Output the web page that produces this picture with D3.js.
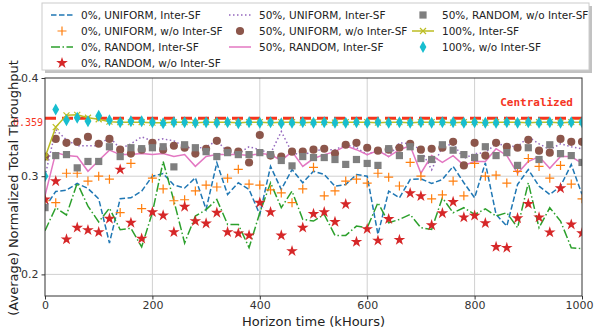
<!DOCTYPE html>
<html><head><meta charset="utf-8">
<script src="https://cdn.jsdelivr.net/npm/d3@7"></script>
<style>body{margin:0;background:#fff}svg{display:block}</style>
</head><body>
<script>
const horizon = [0,20,40,60,80,100,120,140,160,180,200,220,240,260,280,300,320,340,360,380,400,420,440,460,480,500,520,540,560,580,600,620,640,660,680,700,720,740,760,780,800,820,840,860,880,900,920,940,960,980,1000];
const uni0Inter = [0.268,0.2845,0.2858,0.2926,0.2875,0.277,0.232,0.277,0.278,0.2848,0.300,0.3027,0.291,0.288,0.2984,0.2662,0.3136,0.2814,0.2933,0.2865,0.261,0.310,0.2865,0.3068,0.2933,0.3051,0.3017,0.2898,0.2916,0.3017,0.300,0.2407,0.2848,0.278,0.2966,0.2973,0.2926,0.2966,0.310,0.2933,0.278,0.3136,0.261,0.2492,0.2916,0.3068,0.2898,0.2814,0.2898,0.3119,0.2814];
const uni0NoInter = [0.275,0.273,0.303,0.303,0.295,0.300,0.297,0.263,0.313,0.267,0.298,0.287,0.275,0.276,0.285,0.291,0.289,0.298,0.307,0.292,0.291,0.286,0.283,0.273,0.287,0.309,0.280,0.285,0.295,0.297,0.293,0.303,0.299,0.290,0.314,0.300,0.277,0.281,0.295,0.280,0.313,0.300,0.301,0.293,0.305,0.318,0.310,0.298,0.311,0.292,0.277];
const rnd0Inter = [0.2445,0.268,0.2605,0.293,0.2695,0.2534,0.2675,0.2455,0.247,0.228,0.263,0.315,0.275,0.232,0.2594,0.266,0.2763,0.2509,0.2509,0.2272,0.2628,0.2933,0.2679,0.2848,0.256,0.2543,0.261,0.2397,0.2397,0.2492,0.2475,0.273,0.2526,0.256,0.261,0.2475,0.2458,0.278,0.2628,0.2679,0.261,0.2667,0.2594,0.2628,0.2475,0.2933,0.2475,0.2679,0.2543,0.2272,0.2262];
const rnd0NoInter = [0.2763,0.2949,0.2357,0.2476,0.2451,0.2431,0.2567,0.3068,0.2526,0.2364,0.2634,0.26,0.2431,0.2689,0.2543,0.2519,0.2628,0.2431,0.2418,0.2397,0.273,0.2634,0.2397,0.2238,0.2476,0.2616,0.2635,0.2535,0.2715,0.2332,0.2462,0.2345,0.2564,0.2352,0.2827,0.2797,0.2501,0.2623,0.2738,0.2581,0.2598,0.2522,0.2281,0.2271,0.2572,0.2718,0.2581,0.2428,0.2878,0.2508,0.242];
const uni50Inter = [0.300,0.3475,0.337,0.331,0.331,0.331,0.340,0.328,0.333,0.340,0.336,0.338,0.336,0.330,0.328,0.330,0.336,0.325,0.323,0.330,0.327,0.323,0.3455,0.324,0.321,0.326,0.327,0.327,0.332,0.329,0.322,0.327,0.320,0.334,0.333,0.327,0.3065,0.330,0.333,0.318,0.323,0.324,0.333,0.331,0.330,0.340,0.333,0.327,0.333,0.330,0.328];
const uni50NoInter = [0.320,0.338,0.334,0.335,0.340,0.333,0.338,0.327,0.323,0.327,0.334,0.327,0.331,0.329,0.323,0.328,0.336,0.326,0.325,0.314,0.342,0.321,0.320,0.325,0.325,0.327,0.328,0.323,0.332,0.334,0.329,0.326,0.327,0.329,0.333,0.327,0.328,0.329,0.335,0.311,0.334,0.321,0.334,0.330,0.329,0.337,0.326,0.324,0.338,0.335,0.335];
const rnd50Inter = [0.280,0.324,0.321,0.320,0.305,0.316,0.3265,0.322,0.322,0.323,0.322,0.323,0.320,0.322,0.310,0.320,0.322,0.322,0.322,0.321,0.323,0.322,0.316,0.325,0.310,0.318,0.322,0.325,0.331,0.327,0.322,0.326,0.320,0.327,0.331,0.303,0.321,0.314,0.321,0.311,0.315,0.315,0.328,0.321,0.303,0.315,0.320,0.308,0.320,0.320,0.313];
const rnd50NoInter = [0.268,0.321,0.322,0.3085,0.315,0.315,0.330,0.320,0.329,0.328,0.329,0.330,0.3095,0.332,0.329,0.325,0.320,0.324,0.322,0.322,0.324,0.322,0.316,0.3105,0.320,0.319,0.319,0.317,0.312,0.317,0.313,0.311,0.328,0.321,0.330,0.318,0.317,0.332,0.3265,0.322,0.319,0.330,0.321,0.324,0.311,0.329,0.317,0.332,0.323,0.321,0.314];
const full100Inter = [0.319,0.350,0.362,0.3625,0.3595,0.358,0.3555,0.355,0.355,0.355,0.3545,0.3545,0.355,0.355,0.3545,0.355,0.355,0.355,0.3545,0.355,0.355,0.3545,0.355,0.355,0.3545,0.355,0.355,0.3545,0.355,0.355,0.355,0.3545,0.355,0.355,0.3545,0.355,0.355,0.355,0.3545,0.355,0.355,0.3545,0.355,0.355,0.355,0.3545,0.355,0.355,0.3545,0.355,0.355];
const full100NoInter = [0.300,0.368,0.357,0.3595,0.356,0.3615,0.357,0.355,0.356,0.356,0.355,0.354,0.355,0.355,0.3545,0.355,0.3545,0.355,0.354,0.355,0.3545,0.355,0.354,0.3545,0.355,0.3545,0.355,0.3545,0.3545,0.355,0.3545,0.355,0.3545,0.355,0.3545,0.355,0.3545,0.355,0.355,0.3545,0.355,0.3545,0.3545,0.355,0.3545,0.355,0.3545,0.355,0.3545,0.355,0.355];
const centralizedValue = 0.359;
const xTicks = [0,200,400,600,800,1000];
const yTicks = [0.2,0.3,0.4];
const seriesLabels = ["0%, UNIFORM, Inter-SF","0%, UNIFORM, w/o Inter-SF","0%, RANDOM, Inter-SF","0%, RANDOM, w/o Inter-SF","50%, UNIFORM, Inter-SF","50%, UNIFORM, w/o Inter-SF","50%, RANDOM, Inter-SF","50%, RANDOM, w/o Inter-SF","100%, Inter-SF","100%, w/o Inter-SF"];

const W=594,H=328, L=45,R=582,T=78,B=296;
const svg=d3.select("body").append("svg").attr("width",W).attr("height",H).style("font-family","DejaVu Sans, sans-serif");
const x=d3.scaleLinear().domain([0,1000]).range([L,R]);
const y=d3.scaleLinear().domain([0.178,0.4]).range([B,T]);

const g=svg.append("g");
g.selectAll(".gx").data(xTicks.slice(1,-1)).join("line").attr("x1",d=>x(d)).attr("x2",d=>x(d)).attr("y1",T).attr("y2",B).attr("stroke","#d0d0d0").attr("stroke-width",1);
g.selectAll(".gy").data(yTicks.slice(0,-1)).join("line").attr("x1",L).attr("x2",R).attr("y1",d=>y(d)).attr("y2",d=>y(d)).attr("stroke","#d0d0d0").attr("stroke-width",1);

svg.append("defs").append("clipPath").attr("id","c").append("rect").attr("x",L).attr("y",T-8).attr("width",R-L).attr("height",B-T+8);
const P=svg.append("g").attr("clip-path","url(#c)");
const pts=arr=>arr.map((v,i)=>[horizon[i],v]);
const line=d3.line().x(d=>x(d[0])).y(d=>y(d[1]));

const C={blue:"#1f77b4",orange:"#ff7f0e",green:"#2ca02c",red:"#d62728",purple:"#9467bd",brown:"#8c564b",pink:"#e377c2",gray:"#7f7f7f",olive:"#bcbd22",cyan:"#17becf"};

function drawLine(arr,color,dash,w){P.append("path").attr("d",line(pts(arr))).attr("fill","none").attr("stroke",color).attr("stroke-width",w||1.5).attr("stroke-dasharray",dash||null);}
const shapes={
 plus:"M-4.5,0H4.5M0,-4.5V4.5",
 xm:"M-3,-3L3,3M-3,3L3,-3",
 diamond:"M0,-6L3.4,0L0,6L-3.4,0Z",
 star:d3.symbol(d3.symbolStar,42)(),
 circle:d3.symbol(d3.symbolCircle,52)(),
 square:d3.symbol(d3.symbolSquare,52)()
};
function drawMarks(arr,shape,color,stroked){
 P.append("g").selectAll("path").data(pts(arr)).join("path").attr("transform",d=>`translate(${x(d[0])},${y(d[1])})`).attr("d",shapes[shape])
  .attr("fill",stroked?"none":color).attr("stroke",stroked?color:"none").attr("stroke-width",stroked?1.2:0);
}
drawLine(uni0Inter,C.blue,"5.5,2.5");
drawLine(rnd0Inter,C.green,"9,2.5,1.5,2.5");
drawLine(uni50Inter,C.purple,"1.5,2.5");
drawLine(rnd50Inter,C.pink,null);
drawMarks(uni0NoInter,"plus",C.orange,true);
drawMarks(rnd0NoInter,"star",C.red,false);
drawMarks(uni50NoInter,"circle",C.brown,false);
drawMarks(rnd50NoInter,"square",C.gray,false);
P.append("line").attr("x1",L).attr("x2",R).attr("y1",y(centralizedValue)).attr("y2",y(centralizedValue)).attr("stroke","#f5351f").attr("stroke-width",3).attr("stroke-dasharray","11,6");
drawLine(full100Inter,C.olive,null,1.5);
drawMarks(full100Inter,"xm",C.olive,true);
drawMarks(full100NoInter,"diamond",C.cyan,false);

svg.append("text").attr("x",573).attr("y",106).attr("text-anchor","end").attr("font-family","DejaVu Sans Mono, monospace").attr("font-weight","bold").attr("font-size",11).attr("fill","#f5351f").text("Centralized");

svg.append("rect").attr("x",L).attr("y",T).attr("width",R-L).attr("height",B-T).attr("fill","none").attr("stroke","#333").attr("stroke-width",1);

const xa=svg.append("g").attr("transform",`translate(0,${B})`).call(d3.axisBottom(x).tickValues(xTicks).tickSize(3.5).tickPadding(2).tickFormat(d3.format("d")));
const ya=svg.append("g").attr("transform",`translate(${L},0)`).call(d3.axisLeft(y).tickValues(yTicks).tickSize(3.5).tickPadding(3).tickFormat(d3.format(".1f")));
[xa,ya].forEach(a=>{a.select(".domain").remove();a.selectAll("line").attr("stroke","#333");a.selectAll("text").attr("font-size",11).attr("fill","#333").attr("font-family","DejaVu Sans, sans-serif");});
xa.selectAll(".tick").filter(d=>d===1000).select("text").attr("text-anchor","end").attr("x",11);
svg.append("text").attr("x",L-2).attr("y",y(centralizedValue)+4).attr("dy","0.35em").attr("text-anchor","end").attr("font-family","DejaVu Sans Mono, monospace").attr("font-size",10).attr("fill","#f5351f").text(centralizedValue.toFixed(3));

svg.append("text").attr("x",(L+R)/2).attr("y",326).attr("text-anchor","middle").attr("font-size",13).attr("fill","#222").text("Horizon time (kHours)");
svg.append("text").attr("transform",`translate(18,188) rotate(-90)`).attr("text-anchor","middle").attr("font-size",13).attr("fill","#222").text("(Average) Normalized Total Throughput");

const lg=svg.append("g");
lg.append("rect").attr("x",45).attr("y",6).attr("width",547).attr("height",67).attr("fill","#999").attr("opacity",0.6);
lg.append("rect").attr("x",42).attr("y",3).attr("width",547).attr("height",67).attr("fill","#fff").attr("stroke","#ccc");
const cols=[51,229,412], rows=[15,31,47,63];
const leg=[
 {c:0,r:0,t:"line",col:C.blue,dash:"5.5,2.5"},
 {c:0,r:1,t:"plus",col:C.orange},
 {c:0,r:2,t:"line",col:C.green,dash:"9,2.5,1.5,2.5"},
 {c:0,r:3,t:"star",col:C.red},
 {c:1,r:0,t:"line",col:C.purple,dash:"1.5,2.5"},
 {c:1,r:1,t:"circle",col:C.brown},
 {c:1,r:2,t:"line",col:C.pink},
 {c:2,r:0,t:"square",col:C.gray},
 {c:2,r:1,t:"olive",col:C.olive},
 {c:2,r:2,t:"diamond",col:C.cyan}
];
leg.forEach((e,i)=>{
 const x0=cols[e.c], yy=rows[e.r];
 if(e.t==="line"||e.t==="olive"){lg.append("line").attr("x1",x0).attr("x2",x0+22).attr("y1",yy).attr("y2",yy).attr("stroke",e.col).attr("stroke-width",1.5).attr("stroke-dasharray",e.dash||null);}
 if(e.t==="olive"){lg.append("path").attr("transform",`translate(${x0+11},${yy})`).attr("d",shapes.xm).attr("stroke",e.col).attr("fill","none").attr("stroke-width",1.2);}
 else if(e.t==="plus"){lg.append("path").attr("transform",`translate(${x0+11},${yy})`).attr("d",shapes.plus).attr("stroke",e.col).attr("fill","none").attr("stroke-width",1.2);}
 else if(e.t!=="line"){lg.append("path").attr("transform",`translate(${x0+11},${yy})`).attr("d",shapes[e.t]).attr("fill",e.col);}
 lg.append("text").attr("x",x0+30).attr("y",yy).attr("dy","0.35em").attr("font-size",10.5).attr("fill","#222").text(seriesLabels[i]);
});
</script>
</body></html>
